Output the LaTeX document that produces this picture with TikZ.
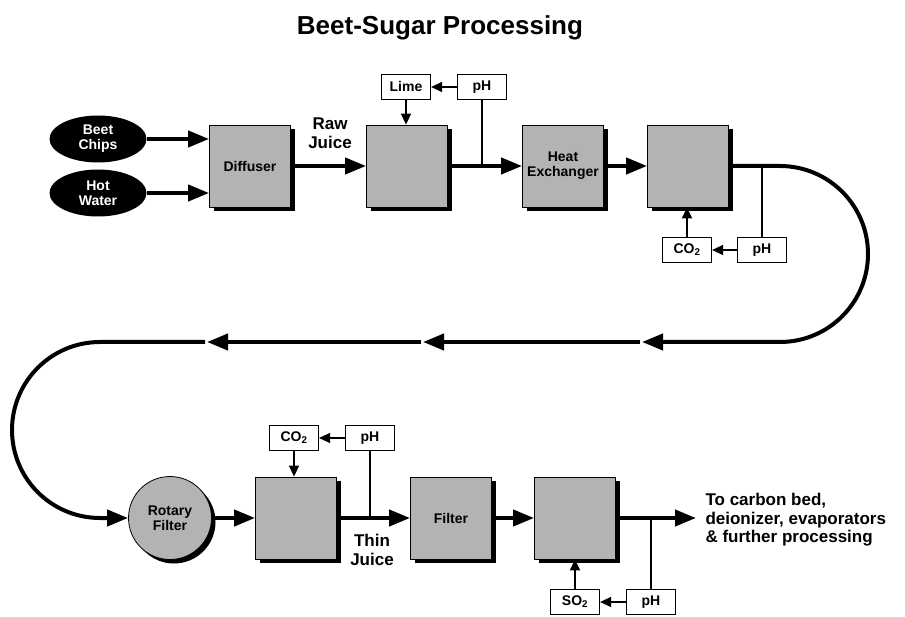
\documentclass[tikz,border=0pt]{standalone}
\usepackage{fontspec}
\setmainfont{Liberation Sans}
\usetikzlibrary{arrows.meta,shapes.geometric,shadows}
\definecolor{unitgray}{RGB}{179,179,179}
\newcommand{\boxfont}{\fontsize{14}{15}\selectfont\bfseries}
\newcommand{\flowfont}{\fontsize{17}{18.5}\selectfont\bfseries}
\tikzset{
  unit/.style={draw=black,line width=0.8pt,fill=unitgray,minimum width=81pt,minimum height=82pt,
    inner sep=0pt,align=center,font=\boxfont,
    drop shadow={shadow xshift=4pt,shadow yshift=-4pt,fill=black,opacity=1}},
  rotor/.style={unit,circle,minimum size=83pt},
  feed/.style={ellipse,fill=black,text=white,minimum width=97pt,minimum height=47pt,
    inner sep=0pt,align=center,font=\boxfont},
  tag/.style={draw=black,line width=1.2pt,fill=white,minimum width=49pt,minimum height=25pt,
    inner sep=0pt,font=\boxfont},
  flow/.style={line width=4pt,-{Triangle[length=21pt,width=16pt]}},
  ctrl/.style={line width=1.4pt,-{Triangle[length=11pt,width=10pt]}},
  probe/.style={line width=1.4pt},
  label/.style={align=center,font=\flowfont}
}
\begin{document}
\begin{tikzpicture}[x=1pt,y=-1pt]
	\useasboundingbox (0,0) rectangle (905,617);
	\node[font=\fontsize{26}{28}\selectfont\bfseries] (title) at (440,28) {Beet-Sugar Processing};
	% top row
	\node[feed] (chips) at (98,139) {Beet\\Chips};
	\node[feed] (water) at (98,193) {Hot\\Water};
	\node[unit] (diffuser) at (250,166) {Diffuser};
	\node[unit] (tank1) at (407,166) {};
	\node[unit] (exchanger) at (563,166) {Heat\\Exchanger};
	\node[unit] (tank2) at (688,166) {};
	\node[tag] (lime) at (406,87) {Lime};
	\node[tag] (ph1) at (482,87) {pH};
	\node[tag] (co2a) at (687,250) {CO\textsubscript{2}};
	\node[tag] (ph2) at (762,250) {pH};
	\node[label] (raw) at (330,133) {Raw\\Juice};
	\draw[flow] (chips.east) -- (chips.east -| diffuser.west);
	\draw[flow] (water.east) -- (water.east -| diffuser.west);
	\draw[flow] (diffuser) -- (tank1);
	\draw[flow] (tank1) -- (exchanger);
	\draw[flow] (exchanger) -- (tank2);
	\draw[ctrl] (ph1) -- (lime);
	\draw[ctrl] (lime) -- (lime |- tank1.north);
	\draw[probe] (ph1.south) -- (ph1 |- tank1.east);
	\draw[ctrl] (ph2) -- (co2a);
	\draw[ctrl] (co2a) -- (co2a |- tank2.south);
	\draw[probe] (ph2.north) -- (ph2 |- tank2.east);
	% return loop
	\coordinate (loopR) at (780,166);
	\coordinate (gap1) at (642,342);
	\coordinate (gap1b) at (640,342);
	\coordinate (gap2) at (423,342);
	\coordinate (gap2b) at (421,342);
	\coordinate (gap3) at (207,342);
	\coordinate (gap3b) at (205,342);
	\coordinate (loopL) at (100,342);
	% bottom row
	\node[rotor] (rotary) at (170,518) {Rotary\\Filter};
	\node[unit] (tank3) at (296,518) {};
	\node[unit] (filter) at (451,518) {Filter};
	\node[unit] (tank4) at (575,518) {};
	\node[tag] (co2b) at (294,438) {CO\textsubscript{2}};
	\node[tag] (ph3) at (370,438) {pH};
	\node[tag] (so2) at (575,602) {SO\textsubscript{2}};
	\node[tag] (ph4) at (651,602) {pH};
	\node[label] (thin) at (372,550) {Thin\\Juice};
	\coordinate (out) at (696,518);
	\node[label,align=left,anchor=west] (dest) at (702,520) {To carbon bed,\\deionizer, evaporators\\\& further processing};
	\draw[flow] (tank2.east) -- (loopR) arc[start angle=90,end angle=-90,radius=88pt] -- (gap1);
	\draw[flow] (gap1b) -- (gap2);
	\draw[flow] (gap2b) -- (gap3);
	\draw[flow] (gap3b) -- (loopL) arc[start angle=90,end angle=270,radius=88pt] -- (rotary.west);
	\draw[flow] (rotary) -- (tank3);
	\draw[flow] (tank3) -- (filter);
	\draw[flow] (filter) -- (tank4);
	\draw[flow] (tank4.east) -- (out);
	\draw[ctrl] (ph3) -- (co2b);
	\draw[ctrl] (co2b) -- (co2b |- tank3.north);
	\draw[probe] (ph3.south) -- (ph3 |- tank3.east);
	\draw[ctrl] (ph4) -- (so2);
	\draw[ctrl] (so2) -- (so2 |- tank4.south);
	\draw[probe] (ph4.north) -- (ph4 |- tank4.east);
\end{tikzpicture}
\end{document}
